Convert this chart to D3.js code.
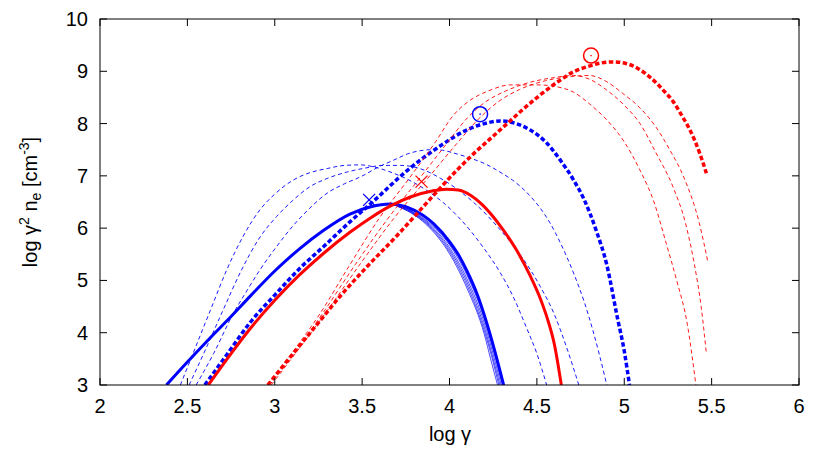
<!DOCTYPE html>
<html><head><meta charset="utf-8">
<script src="https://cdn.jsdelivr.net/npm/d3@7"></script>
<style>body{margin:0;background:#fff}svg{display:block}text{font-family:"Liberation Sans",Arial,sans-serif;fill:#000}</style>
</head><body>
<svg id="c" width="830" height="451"></svg>
<script>
// ---- data (log gamma, log gamma^2 n_e) ----
const xTicks = [2, 2.5, 3, 3.5, 4, 4.5, 5, 5.5, 6];
const yTicks = [3, 4, 5, 6, 7, 8, 9, 10];

const blueSolid = [[2.38,3],[2.5,3.44],[2.63,3.9],[2.75,4.31],[2.86,4.7],[3.0,5.18],[3.14,5.6],[3.28,5.96],[3.43,6.27],[3.55,6.41],[3.66,6.46],[3.75,6.41],[3.85,6.24],[3.91,6.08],[4.0,5.74],[4.06,5.44],[4.10,5.18],[4.16,4.72],[4.21,4.22],[4.26,3.64],[4.31,3.0]];
const blueFan1 = [[3.70,6.44],[3.78,6.33],[3.87,6.14],[4.0,5.68],[4.1,5.1],[4.2,4.26],[4.25,3.68],[4.303,3.0]];
const blueFan2 = [[3.70,6.43],[3.78,6.32],[3.87,6.12],[4.0,5.63],[4.1,5.03],[4.2,4.18],[4.25,3.59],[4.296,3.0]];
const blueFan3 = [[3.70,6.43],[3.78,6.31],[3.87,6.10],[4.0,5.59],[4.1,4.97],[4.2,4.1],[4.25,3.5],[4.289,3.0]];
const blueFan4 = [[3.70,6.42],[3.78,6.30],[3.87,6.08],[4.0,5.55],[4.1,4.91],[4.2,4.03],[4.24,3.56],[4.282,3.0]];
const blueFan5 = [[3.70,6.42],[3.78,6.29],[3.87,6.06],[4.0,5.51],[4.1,4.85],[4.2,3.96],[4.235,3.5],[4.275,3.0]];
const blueDotted = [[2.60,3],[2.73,3.6],[2.86,4.2],[3.0,4.72],[3.14,5.22],[3.28,5.65],[3.43,6.12],[3.56,6.5],[3.75,7.08],[3.95,7.58],[4.1,7.88],[4.2,8.0],[4.29,8.05],[4.38,8.0],[4.46,7.88],[4.55,7.65],[4.63,7.32],[4.71,6.92],[4.77,6.55],[4.84,5.95],[4.90,5.3],[4.96,4.3],[5.0,3.65],[5.03,3.0]];
const blueDash1 = [[2.46,3],[2.55,3.75],[2.64,4.5],[2.725,5.2],[2.82,5.85],[2.915,6.35],[3.0,6.65],[3.106,6.92],[3.2,7.06],[3.3,7.14],[3.4,7.2],[3.49,7.21],[3.58,7.16],[3.68,7.05],[3.78,6.9],[3.87,6.72],[3.96,6.5],[4.04,6.25],[4.12,5.95],[4.2,5.6],[4.29,5.15],[4.37,4.65],[4.44,4.1],[4.5,3.6],[4.556,3.0]];
const blueDash2 = [[2.51,3],[2.6,3.65],[2.7,4.4],[2.81,5.2],[2.91,5.8],[3.01,6.22],[3.1,6.52],[3.2,6.79],[3.3,6.95],[3.41,7.07],[3.52,7.15],[3.62,7.2],[3.72,7.2],[3.83,7.14],[3.95,6.95],[4.07,6.68],[4.19,6.33],[4.3,5.93],[4.42,5.42],[4.52,4.88],[4.6,4.35],[4.67,3.72],[4.74,3.0]];
const blueDash3 = [[2.55,3],[2.65,3.6],[2.76,4.35],[2.84,4.8],[2.915,5.2],[3.0,5.6],[3.106,6.05],[3.2,6.38],[3.3,6.67],[3.4,6.85],[3.49,6.98],[3.6,7.18],[3.68,7.3],[3.76,7.42],[3.83,7.48],[3.9,7.5],[3.96,7.49],[4.02,7.44],[4.1,7.36],[4.21,7.22],[4.3,7.05],[4.36,6.92],[4.46,6.62],[4.52,6.38],[4.575,6.1],[4.64,5.68],[4.71,5.14],[4.77,4.6],[4.82,4.05],[4.86,3.55],[4.90,3.0]];

const redSolid = [[2.62,3],[2.75,3.6],[2.86,4.08],[3.0,4.62],[3.14,5.1],[3.28,5.52],[3.43,5.92],[3.55,6.2],[3.66,6.42],[3.78,6.6],[3.9,6.71],[3.98,6.745],[4.05,6.73],[4.12,6.63],[4.19,6.44],[4.3,6.0],[4.38,5.6],[4.46,5.1],[4.52,4.65],[4.56,4.27],[4.6,3.78],[4.64,3.0]];
const redDotted = [[2.96,3],[3.1,3.58],[3.24,4.15],[3.38,4.72],[3.53,5.27],[3.70,5.86],[3.82,6.3],[3.95,6.78],[4.04,7.1],[4.14,7.43],[4.24,7.73],[4.33,8.0],[4.43,8.3],[4.52,8.55],[4.62,8.8],[4.71,8.99],[4.80,9.1],[4.87,9.16],[4.94,9.18],[5.01,9.15],[5.08,9.05],[5.15,8.88],[5.22,8.65],[5.28,8.42],[5.33,8.15],[5.38,7.85],[5.43,7.45],[5.47,7.05]];
const redDash1 = [[2.96,3],[3.1,3.62],[3.25,4.32],[3.43,5.3],[3.6,6.2],[3.78,7.0],[3.92,7.65],[4.02,8.15],[4.12,8.45],[4.22,8.62],[4.35,8.74],[4.5,8.74],[4.62,8.7],[4.71,8.6],[4.8,8.38],[4.9,8.07],[5.0,7.65],[5.09,7.11],[5.17,6.5],[5.24,5.71],[5.3,5.0],[5.36,4.18],[5.41,3.0]];
const redDash2 = [[2.97,3],[3.12,3.65],[3.27,4.35],[3.46,5.3],[3.64,6.15],[3.84,7.0],[3.98,7.6],[4.1,8.1],[4.2,8.4],[4.32,8.62],[4.45,8.78],[4.6,8.88],[4.71,8.92],[4.8,8.85],[4.9,8.64],[5.0,8.35],[5.09,8.0],[5.18,7.45],[5.28,6.78],[5.35,6.1],[5.40,5.33],[5.44,4.5],[5.47,3.6]];
const redDash3 = [[2.98,3],[3.14,3.7],[3.3,4.42],[3.49,5.32],[3.68,6.18],[3.9,7.05],[4.05,7.65],[4.17,8.1],[4.28,8.42],[4.4,8.65],[4.55,8.82],[4.7,8.9],[4.8,8.92],[4.9,8.8],[4.99,8.58],[5.09,8.3],[5.18,7.94],[5.26,7.5],[5.34,6.98],[5.43,6.09],[5.48,5.33]];

const blueCircle = [4.175, 8.18];
const redCircle = [4.81, 9.30];
const blueCross = [3.54, 6.54];
const redCross = [3.84, 6.89];

// ---- drawing ----
const L = 100, R = 799, T = 19, B = 385;
const svg = d3.select("#c");
const x = d3.scaleLinear().domain([2, 6]).range([L, R]);
const y = d3.scaleLinear().domain([3, 10]).range([B, T]);

svg.append("defs").append("clipPath").attr("id","clip")
  .append("rect").attr("x",L).attr("y",T).attr("width",R-L).attr("height",B-T);

const line = d3.line().x(d => x(d[0])).y(d => y(d[1])).curve(d3.curveMonotoneX);
const g = svg.append("g").attr("clip-path","url(#clip)");
function draw(data, color, width, dash){
  const p = g.append("path").datum(data).attr("d", line)
    .attr("fill","none").attr("stroke",color).attr("stroke-width",width)
    .attr("stroke-linejoin","round");
  if (dash) p.attr("stroke-dasharray", dash);
}
const BLUE = "#0000ff", RED = "#ff0000";
[blueDash1, blueDash2, blueDash3].forEach(d => draw(d, BLUE, 0.9, "4,3"));
[blueFan1, blueFan2, blueFan3, blueFan4, blueFan5].forEach(d => draw(d, BLUE, 0.7));
draw(blueSolid, BLUE, 3);
draw(blueDotted, BLUE, 3.5, "4.5,2.5");
[redDash1, redDash2, redDash3].forEach(d => draw(d, RED, 0.9, "4,3"));
draw(redSolid, RED, 3);
draw(redDotted, RED, 3.5, "4.5,2.5");

function circle(p, color){
  svg.append("circle").attr("cx",x(p[0])).attr("cy",y(p[1])).attr("r",7.5)
    .attr("fill","none").attr("stroke",color).attr("stroke-width",1.5);
  svg.append("circle").attr("cx",x(p[0])).attr("cy",y(p[1])).attr("r",0.8).attr("fill",color);
}
function cross(p, color){
  const cx = x(p[0]), cy = y(p[1]), s = 6;
  svg.append("path").attr("d",`M${cx-s},${cy-s}L${cx+s},${cy+s}M${cx-s},${cy+s}L${cx+s},${cy-s}`)
    .attr("stroke",color).attr("stroke-width",1.3).attr("fill","none");
}
circle(blueCircle, BLUE); circle(redCircle, RED);
cross(blueCross, BLUE); cross(redCross, RED);

// frame and ticks
svg.append("rect").attr("x",L).attr("y",T).attr("width",R-L).attr("height",B-T)
  .attr("fill","none").attr("stroke","#000").attr("stroke-width",1);
const tk = svg.append("g").attr("stroke","#000").attr("stroke-width",1);
xTicks.forEach(v => {
  tk.append("line").attr("x1",x(v)).attr("x2",x(v)).attr("y1",B).attr("y2",B-7);
  tk.append("line").attr("x1",x(v)).attr("x2",x(v)).attr("y1",T).attr("y2",T+7);
  svg.append("text").attr("x",x(v)).attr("y",B+28).attr("text-anchor","middle")
    .attr("font-size",20).text(v);
});
yTicks.forEach(v => {
  tk.append("line").attr("x1",L).attr("x2",L+7).attr("y1",y(v)).attr("y2",y(v));
  tk.append("line").attr("x1",R).attr("x2",R-7).attr("y1",y(v)).attr("y2",y(v));
  svg.append("text").attr("x",L-12).attr("y",y(v)+7).attr("text-anchor","end")
    .attr("font-size",20).text(v);
});

svg.append("text").attr("x",450).attr("y",441).attr("text-anchor","middle")
  .attr("font-size",20).text("log γ");

const yl = svg.append("text").attr("transform","translate(37,202) rotate(-90)")
  .attr("text-anchor","middle").attr("font-size",20);
yl.append("tspan").text("log γ");
yl.append("tspan").attr("font-size",14).attr("dy",-8).text("2");
yl.append("tspan").attr("dy",8).text(" n");
yl.append("tspan").attr("font-size",14).attr("dy",4).text("e");
yl.append("tspan").attr("dy",-4).text(" [cm");
yl.append("tspan").attr("font-size",14).attr("dy",-8).text("-3");
yl.append("tspan").attr("dy",8).text("]");
</script>
</body></html>
